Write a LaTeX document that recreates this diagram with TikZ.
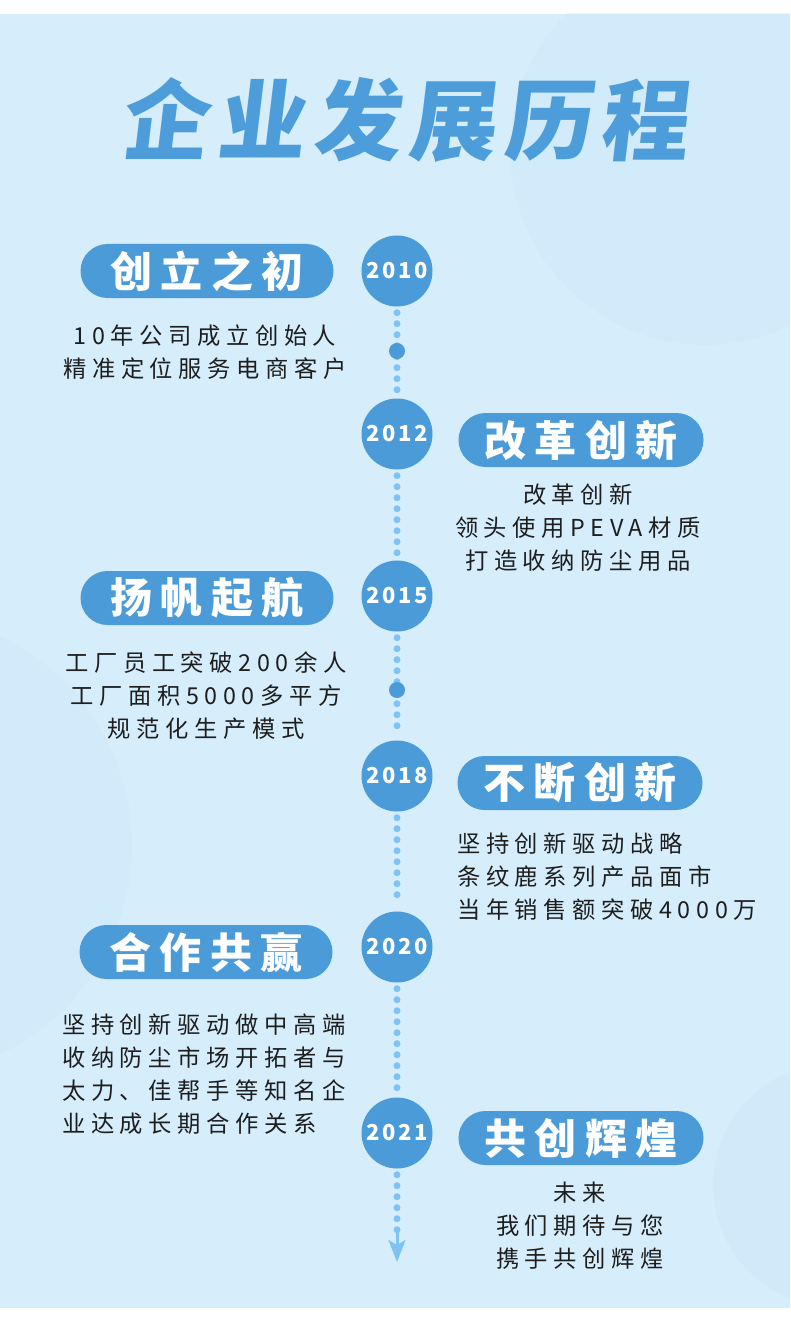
\documentclass[tikz,border=0pt]{standalone}
\usepackage{fontspec}
\usepackage{xcolor}
\usepackage{tikz}
\usetikzlibrary{arrows.meta}
\setmainfont{Noto Sans CJK SC}
\newfontfamily\titlef[FakeSlant=0.12,LetterSpace=9]{Noto Sans CJK SC}
\newfontfamily\pillf[LetterSpace=20]{Noto Sans CJK SC}
\newfontfamily\bodyf[LetterSpace=24]{Noto Sans CJK SC}
\newfontfamily\yearf[LetterSpace=12]{Noto Sans CJK SC}
\definecolor{bgc}{HTML}{D6EEFC}
\definecolor{ringc}{HTML}{CDE7FA}
\definecolor{mainc}{HTML}{4A9BD7}
\definecolor{titlec}{HTML}{4D9DDA}
\definecolor{dotc}{HTML}{7DC3F6}
\definecolor{inkc}{HTML}{1E1E1E}
\tikzset{
  yr/.style={circle,fill=mainc,minimum size=71pt,inner sep=0pt,text=white,font=\yearf\bfseries\fontsize{22}{22}\selectfont},
  pill/.style={fill=mainc,rounded corners=27pt,minimum width=253pt,minimum height=54pt,inner sep=0pt,text=white,font=\pillf\bfseries\fontsize{42}{42}\selectfont},
  pillr/.style={pill,minimum width=245pt},
  txt/.style={text=inkc,inner sep=0pt,font=\bodyf\fontsize{23.3}{33}\selectfont},
  dots/.style={dotc,line width=7pt,line cap=round,dash pattern=on 0pt off 11pt,shorten <=6pt,shorten >=6pt},
  bigdot/.style={circle,fill=mainc,minimum size=16pt,inner sep=0pt},
  arr/.style={-{Stealth[length=22pt,width=17pt,inset=5pt]},dotc,line width=3pt}
}
\begin{document}
\begin{tikzpicture}[x=1pt,y=-1pt]
\useasboundingbox (0,0) rectangle (790,1332);
\fill[white] (0,0) rectangle (790,1332);
\fill[bgc] (0,14) rectangle (790,1308);
% soft rings in the background
\begin{scope}
\clip (0,14) rectangle (790,1308);
\fill[ringc,opacity=.35] (705,150) circle (195);
\fill[ringc,opacity=.35] (-100,845) circle (232);
\fill[ringc,opacity=.5] (835,1185) circle (122);
\end{scope}
\node[text=titlec,font=\titlef\bfseries\fontsize{88}{88}\selectfont] (title) at (404,120) {企业发展历程};
% years on the time line
\node[yr] (y2010) at (397,271) {2010};
\node[yr] (y2012) at (397,434) {2012};
\node[yr] (y2015) at (397,596) {2015};
\node[yr] (y2018) at (397,776) {2018};
\node[yr] (y2020) at (397,947) {2020};
\node[yr] (y2021) at (397,1133) {2021};
\coordinate (tail) at (397,1232); \coordinate (tip) at (397,1262);
\draw[dots] (y2010)--(y2012); \draw[dots] (y2012)--(y2015); \draw[dots] (y2015)--(y2018);
\draw[dots] (y2018)--(y2020); \draw[dots] (y2020)--(y2021); \draw[dots,shorten >=0pt] (y2021)--(tail);
\draw[arr] (tail)--(tip);
\node[bigdot] (d1) at (397,351) {};
\node[bigdot] (d2) at (397,690) {};
% stages
\node[pill] (p1) at (207,271) {创立之初};
\node[pillr] (p2) at (581,440) {改革创新};
\node[pill] (p3) at (207,598) {扬帆起航};
\node[pillr] (p4) at (580,783) {不断创新};
\node[pill] (p5) at (206,952) {合作共赢};
\node[pillr] (p6) at (581,1138) {共创辉煌};
\node[txt,align=center] (t1) at (205,352) {10年公司成立创始人\\精准定位服务电商客户};
\node[txt,align=center] (t2) at (578,528) {改革创新\\领头使用PEVA材质\\打造收纳防尘用品};
\node[txt,align=center] (t3) at (206,696) {工厂员工突破200余人\\工厂面积5000多平方\\规范化生产模式};
\node[txt,align=left,anchor=west] (t4) at (457,877) {坚持创新驱动战略\\条纹鹿系列产品面市\\当年销售额突破4000万};
\node[txt,align=left,anchor=west] (t5) at (62,1074) {坚持创新驱动做中高端\\收纳防尘市场开拓者与\\太力、佳帮手等知名企\\业达成长期合作关系};
\node[txt,align=center] (t6) at (580,1226) {未来\\我们期待与您\\携手共创辉煌};
\end{tikzpicture}
\end{document}
